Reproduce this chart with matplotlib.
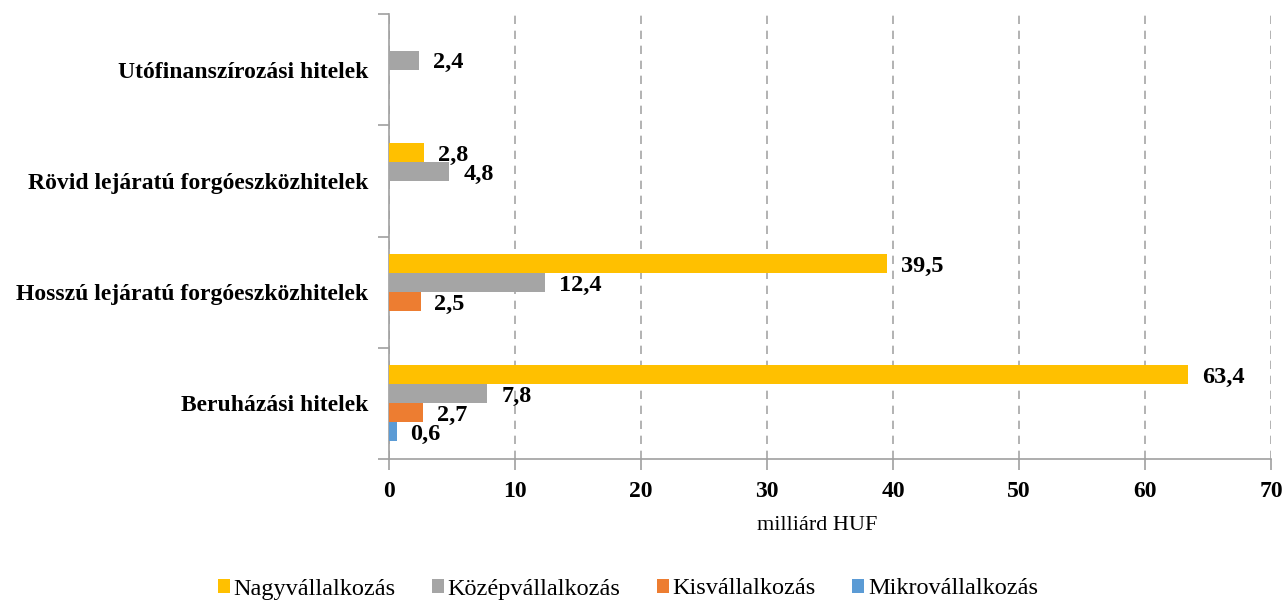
import matplotlib
matplotlib.use("Agg")
import matplotlib.pyplot as plt
import numpy as np
from matplotlib.patches import Patch

plt.rcParams['font.family'] = ['Liberation Serif', 'DejaVu Serif']

categories = ["Beruházási hitelek", "Hosszú lejáratú forgóeszközhitelek",
              "Rövid lejáratú forgóeszközhitelek", "Utófinanszírozási hitelek"]
series_names = ["Nagyvállalkozás", "Középvállalkozás", "Kisvállalkozás", "Mikrovállalkozás"]
nagy = [63.4, 39.5, 2.8, np.nan]
kozep = [7.8, 12.4, 4.8, 2.4]
kis = [2.7, 2.5, np.nan, np.nan]
mikro = [0.6, np.nan, np.nan, np.nan]
xticks = [0, 10, 20, 30, 40, 50, 60, 70]
colors = ["#FFC000", "#A5A5A5", "#ED7D31", "#5B9BD5"]

fig = plt.figure(figsize=(12.84, 6.01), dpi=100)
ax = fig.add_axes([389/1284, 1 - 459/601, (1271-389)/1284, (459-14)/601])

h = 19/111
y = np.arange(len(categories))
for i, (vals, col) in enumerate(zip([nagy, kozep, kis, mikro], colors)):
    offs = (1.5 - i) * h
    bars = ax.barh(y + offs, vals, height=h, color=col, zorder=3)
    labels = ["" if np.isnan(v) else f"{v:.1f}".replace(".", ",") for v in vals]
    texts = ax.bar_label(bars, labels=labels, padding=10, fontsize=17.5, fontweight='bold')
    for t in texts:
        t.set_va('center')
        x0, y0 = t.xyann
        t.xyann = (x0, y0 - 2)

ax.set_xlim(0, 70)
ax.set_ylim(-0.5, 3.5)
ax.set_xticks(xticks)
ax.set_xticklabels([str(t) for t in xticks], fontsize=17, fontweight='bold')
ax.set_yticks(y)
ax.set_yticklabels(categories, fontsize=17, fontweight='bold')
ax.tick_params(axis='y', which='major', length=0, pad=15)
ax.set_yticks(np.arange(-0.5, 4, 1), minor=True)
ax.tick_params(axis='y', which='minor', length=8, color='#A0A0A0', width=1.2)
ax.tick_params(axis='x', which='major', length=8, color='#A0A0A0', width=1.2, pad=8)
ax.xaxis.grid(True, linestyle=(0, (5, 4)), color='#A6A6A6', linewidth=1.2, zorder=0)
for s in ['top', 'right']:
    ax.spines[s].set_visible(False)
for s in ['left', 'bottom']:
    ax.spines[s].set_color('#A0A0A0')
    ax.spines[s].set_linewidth(1.2)
ax.set_xlabel("milliárd HUF", fontsize=16)
ax.xaxis.set_label_coords((817 - 389) / 882, -(525 - 459) / 445)
ax.xaxis.label.set_va('center')

handles = [Patch(facecolor=c, edgecolor='none') for c in colors]
fig.legend(handles, series_names, loc='center', bbox_to_anchor=(628/1284, 1 - 589/601),
           ncol=4, frameon=False, fontsize=17.5, handlelength=0.47, handleheight=0.47,
           handletextpad=0.17, columnspacing=1.5, borderpad=0)

fig.savefig("out.png", dpi=100)
